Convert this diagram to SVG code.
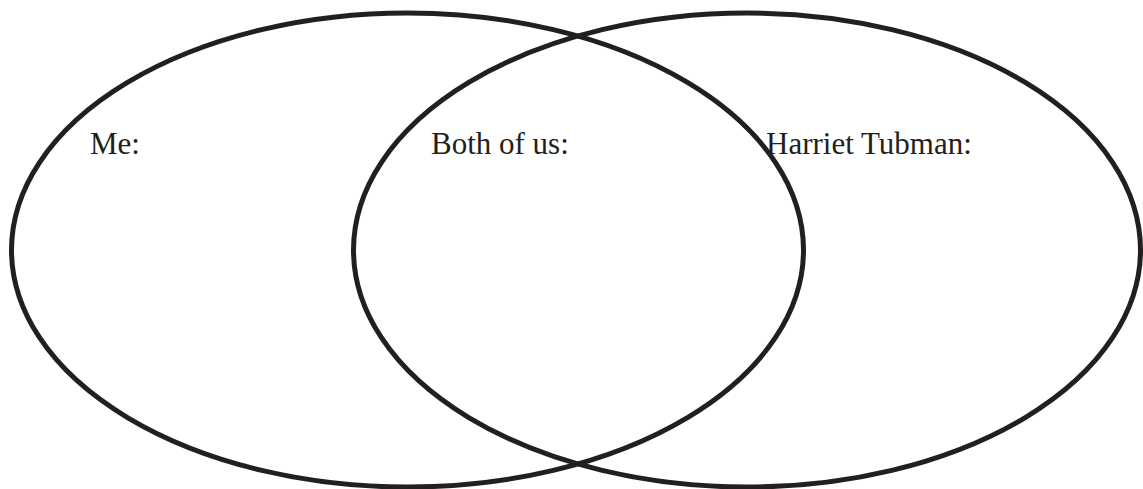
<svg xmlns="http://www.w3.org/2000/svg" width="1143" height="489" viewBox="0 0 1143 489">
<style>
.c{fill:none;stroke:#231f20;stroke-width:5}
.t{font-family:"Liberation Serif",serif;font-size:31px;fill:#231f20}
</style>
<rect width="1143" height="489" fill="#ffffff"/>
<g id="left-set"><ellipse class="c" cx="407.5" cy="250" rx="396" ry="237"/><text class="t" x="90" y="154">Me:</text></g>
<g id="right-set"><ellipse class="c" cx="747" cy="250" rx="393.5" ry="237"/><text class="t" x="766" y="154">Harriet Tubman:</text></g>
<g id="overlap"><text class="t" x="431" y="154">Both of us:</text></g>
<g id="connectors"></g>
</svg>
